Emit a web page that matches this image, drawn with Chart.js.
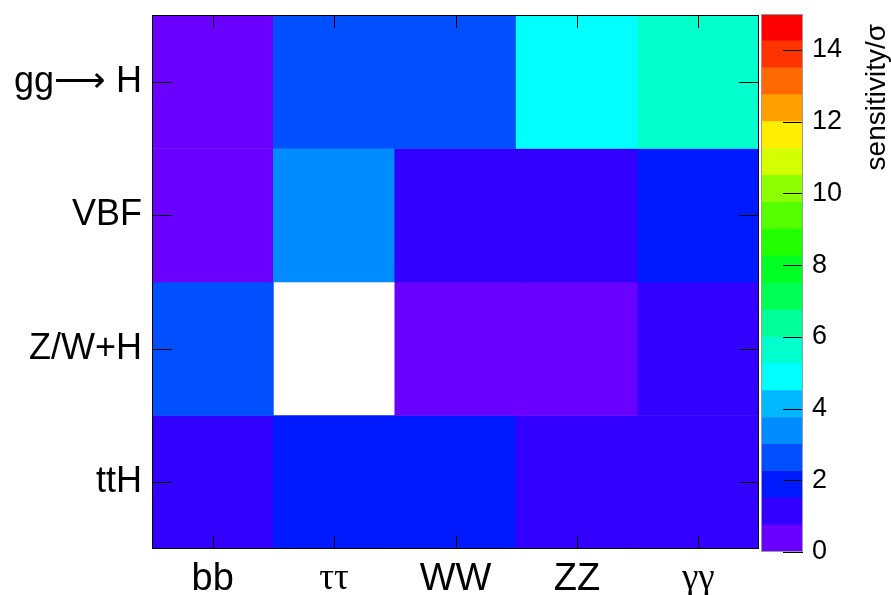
<!DOCTYPE html>
<html>
<head>
<meta charset="utf-8">
<script src="https://cdn.jsdelivr.net/npm/chart.js@4.4.1/dist/chart.umd.min.js"></script>
<style>
  html, body { margin: 0; padding: 0; background: #fff; }
  #main { position: absolute; left: 0; top: 0; width: 760px; height: 595px; }
  #bar { position: absolute; left: 760px; top: 0; width: 131px; height: 595px; }
</style>
</head>
<body>
<div id="main"><canvas id="heatChart"></canvas></div>
<div id="bar"><canvas id="scaleChart"></canvas></div>
<script>
// decay channels (columns) and production modes (rows, top to bottom)
const channels = ['bb', 'ττ', 'WW', 'ZZ', 'γγ'];
const productions = ['gg⟶ H', 'VBF', 'Z/W+H', 'ttH'];

// sensitivity / sigma, one array per production row
const sens_ggH = [0.4, 2.6, 2.6, 4.9, 5.6];
const sens_VBF = [0.4, 3.3, 1.1, 1.1, 1.9];
const sens_VH  = [2.6, 0.0, 0.4, 0.4, 1.1];
const sens_ttH = [1.2, 1.9, 1.9, 1.1, 1.1];
const sensitivity = [sens_ggH, sens_VBF, sens_VH, sens_ttH];

// colour scale
const zMax = 15;
const colorbarTicks = [0, 2, 4, 6, 8, 10, 12, 14];
const palette = [
  '#6a00ff', '#3300ff', '#001aff', '#0050ff', '#008cff',
  '#00b8ff', '#00ffff', '#00ffcc', '#00ff99', '#00ff55',
  '#00ff22', '#22ff00', '#55ff00', '#8cff00', '#d4ff00',
  '#ffee00', '#ffa000', '#ff6a00', '#ff3300', '#ff0000'
];

const FONT = "'Liberation Sans', Arial, Helvetica, sans-serif";
const nRows = productions.length;

function colorFor(v) {
  if (v <= 0) return 'rgba(255,255,255,0)';
  const i = Math.min(Math.floor(v / zMax * palette.length), palette.length - 1);
  return palette[i];
}

// ROOT style inward tick marks and frame
const heatFrame = {
  id: 'heatFrame',
  afterDraw(chart) {
    const { ctx, chartArea: a, scales } = chart;
    ctx.save();
    ctx.strokeStyle = '#000';
    ctx.lineWidth = 1;
    ctx.beginPath();
    channels.forEach((c, i) => {
      const x = Math.round(scales.x.getPixelForValue(i)) + 0.5;
      ctx.moveTo(x, a.top); ctx.lineTo(x, a.top + 13);
      ctx.moveTo(x, a.bottom); ctx.lineTo(x, a.bottom - 13);
    });
    productions.forEach((p, r) => {
      const y = Math.round(scales.y.getPixelForValue(nRows - r - 0.5)) + 0.5;
      ctx.moveTo(a.left, y); ctx.lineTo(a.left + 20, y);
      ctx.moveTo(a.right, y); ctx.lineTo(a.right - 20, y);
    });
    ctx.stroke();
    ctx.strokeRect(a.left + 0.5, a.top + 0.5, a.right - a.left - 1, a.bottom - a.top - 1);
    ctx.restore();
  }
};

const heatCtx = document.getElementById('heatChart').getContext('2d');
const heatChart = new Chart(heatCtx, {
  type: 'bar',
  data: {
    labels: channels,
    datasets: productions.map((p, r) => ({
      label: p,
      data: channels.map(() => [nRows - r - 1, nRows - r]),
      backgroundColor: sensitivity[r].map(colorFor),
      grouped: false,
      barPercentage: 1,
      categoryPercentage: 1,
      borderWidth: 0
    }))
  },
  options: {
    responsive: true,
    maintainAspectRatio: false,
    animation: false,
    layout: { padding: { top: 15, right: 1, left: 0, bottom: 0 } },
    plugins: { legend: { display: false }, tooltip: { enabled: false } },
    scales: {
      x: {
        type: 'category',
        grid: { display: false, drawTicks: false },
        border: { display: false },
        afterFit: s => { s.height = 46; s.paddingLeft = 0; s.paddingRight = 0; },
        ticks: {
          color: '#000',
          padding: 8,
          maxRotation: 0,
          autoSkip: false,
          font: c => (c.index === 1 || c.index === 4)
            ? { family: "'Liberation Serif', 'DejaVu Serif', serif", size: 37 }
            : { family: FONT, size: 38 }
        }
      },
      y: {
        type: 'linear',
        min: 0,
        max: nRows,
        grid: { display: false, drawTicks: false },
        border: { display: false },
        afterFit: s => { s.width = 152; s.paddingTop = 0; s.paddingBottom = 0; },
        afterBuildTicks: s => {
          s.ticks = productions.map((p, r) => ({ value: nRows - r - 0.5 }));
        },
        ticks: {
          color: '#000',
          padding: 10,
          autoSkip: false,
          font: { family: FONT, size: 36 },
          callback: v => productions[nRows - 0.5 - v]
        }
      }
    }
  },
  plugins: [heatFrame]
});

// colour bar: inward ticks, outline, rotated title
const barDecor = {
  id: 'barDecor',
  afterDraw(chart) {
    const { ctx, chartArea: a, scales } = chart;
    ctx.save();
    ctx.strokeStyle = '#000';
    ctx.lineWidth = 1;
    ctx.beginPath();
    colorbarTicks.forEach(v => {
      const y = Math.round(scales.y.getPixelForValue(v)) + 0.5;
      ctx.moveTo(a.right, y); ctx.lineTo(a.right - 20, y);
    });
    ctx.stroke();
    ctx.strokeStyle = '#9a9a9a';
    ctx.strokeRect(a.left + 0.5, a.top + 0.5, a.right - a.left - 1, a.bottom - a.top - 1);
    ctx.translate(117, 24);
    ctx.rotate(-Math.PI / 2);
    ctx.fillStyle = '#000';
    ctx.font = '28px ' + FONT;
    ctx.textAlign = 'right';
    ctx.textBaseline = 'middle';
    ctx.fillText('sensitivity/σ', 0, 0);
    ctx.restore();
  }
};

const levelWidth = zMax / palette.length;
const scaleCtx = document.getElementById('scaleChart').getContext('2d');
const scaleChart = new Chart(scaleCtx, {
  type: 'bar',
  data: {
    labels: [''],
    datasets: palette.map((c, i) => ({
      data: [[i * levelWidth, (i + 1) * levelWidth]],
      backgroundColor: c,
      grouped: false,
      barPercentage: 1,
      categoryPercentage: 1,
      borderWidth: 0
    }))
  },
  options: {
    responsive: true,
    maintainAspectRatio: false,
    animation: false,
    layout: { padding: { top: 14, right: 0, left: 1, bottom: 43 } },
    plugins: { legend: { display: false }, tooltip: { enabled: false } },
    scales: {
      x: { display: false },
      y: {
        type: 'linear',
        position: 'right',
        min: 0,
        max: zMax,
        grid: { display: false, drawTicks: false },
        border: { display: false },
        afterFit: s => { s.width = 88; s.paddingTop = 0; s.paddingBottom = 0; },
        afterBuildTicks: s => {
          s.ticks = colorbarTicks.map(v => ({ value: v }));
        },
        ticks: {
          color: '#000',
          padding: 9,
          autoSkip: false,
          font: { family: FONT, size: 27 }
        }
      }
    }
  },
  plugins: [barDecor]
});
</script>
</body>
</html>
